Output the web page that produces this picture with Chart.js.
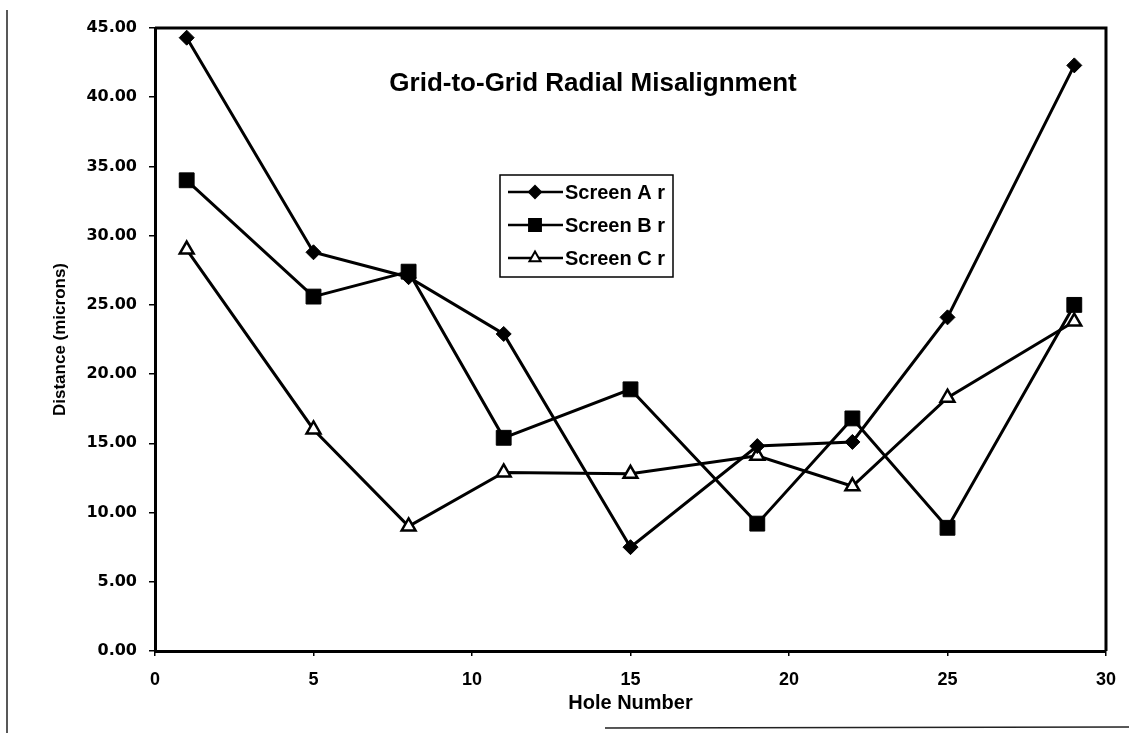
<!DOCTYPE html>
<html>
<head>
<meta charset="utf-8">
<script src="https://cdn.jsdelivr.net/npm/chart.js@4.4.0/dist/chart.umd.min.js"></script>
<style>
    html, body { margin: 0; padding: 0; background: #fff; }
    #wrap { width: 1129px; height: 733px; }
</style>
</head>
<body>
<div id="wrap"><canvas id="chart-misalign" width="1129" height="733"></canvas></div>
<script>
// data
const holes = [1, 5, 8, 11, 15, 19, 22, 25, 29];
const screenA = [44.3, 28.8, 27.0, 22.9, 7.5, 14.8, 15.1, 24.1, 42.3];
const screenB = [34.0, 25.6, 27.4, 15.4, 18.9, 9.2, 16.8, 8.9, 25.0];
const screenC = [29.0, 16.0, 9.0, 12.9, 12.8, 14.1, 11.9, 18.3, 23.8];
const seriesNames = ['Screen A r', 'Screen B r', 'Screen C r'];
const chartTitle = 'Grid-to-Grid Radial Misalignment';

function toPoints(values) {
    return holes.map((h, i) => ({ x: h, y: values[i] }));
}

// title + boxed legend inside the plot, plot frame, scan edge lines
const decorPlugin = {
    id: 'decor',
    afterDraw(chart) {
        const ctx = chart.ctx;
        const area = chart.chartArea;
        ctx.save();

        // frame top/right
        ctx.strokeStyle = '#000';
        ctx.lineWidth = 3;
        ctx.beginPath();
        ctx.moveTo(area.left, area.top);
        ctx.lineTo(area.right, area.top);
        ctx.lineTo(area.right, area.bottom);
        ctx.stroke();

        // scan edges
        ctx.lineWidth = 1.5;
        ctx.strokeStyle = '#222';
        ctx.beginPath();
        ctx.moveTo(7, 10);
        ctx.lineTo(7, 733);
        ctx.moveTo(605, 728);
        ctx.lineTo(1129, 727);
        ctx.stroke();

        // title
        ctx.fillStyle = '#000';
        ctx.font = 'bold 26px "Liberation Sans", Arial, sans-serif';
        ctx.textAlign = 'center';
        ctx.textBaseline = 'middle';
        ctx.fillText(chartTitle, 593, 84);

        // legend
        const box = { x: 500, y: 175, w: 173, h: 102 };
        ctx.fillStyle = '#fff';
        ctx.fillRect(box.x, box.y, box.w, box.h);
        ctx.strokeStyle = '#000';
        ctx.lineWidth = 1.5;
        ctx.strokeRect(box.x, box.y, box.w, box.h);
        ctx.font = 'bold 20px "Liberation Sans", Arial, sans-serif';
        ctx.textAlign = 'left';
        chart.data.datasets.forEach((ds, i) => {
            const y = box.y + 17 + i * 33;
            ctx.strokeStyle = '#000';
            ctx.lineWidth = 2.5;
            ctx.beginPath();
            ctx.moveTo(box.x + 8, y);
            ctx.lineTo(box.x + 63, y);
            ctx.stroke();
            ctx.fillStyle = ds.pointBackgroundColor;
            ctx.strokeStyle = '#000';
            ctx.lineWidth = 2;
            Chart.helpers.drawPoint(ctx, {
                pointStyle: ds.pointStyle,
                radius: ds.pointRadius * 0.8,
                borderWidth: 2,
                rotation: 0
            }, box.x + 35, y);
            ctx.fillStyle = '#000';
            ctx.fillText(ds.label, box.x + 65, y + 1);
        });
        ctx.restore();
    }
};

const element = document.getElementById('chart-misalign');
const chart = new Chart(element, {
    type: 'line',
    data: {
        datasets: [{
                label: seriesNames[0],
                data: toPoints(screenA),
                borderColor: '#000',
                borderWidth: 3,
                pointStyle: 'rectRot',
                pointRadius: 7.5,
                pointBackgroundColor: '#000',
                pointBorderColor: '#000',
                pointBorderWidth: 1
            },
            {
                label: seriesNames[1],
                data: toPoints(screenB),
                borderColor: '#000',
                borderWidth: 3,
                pointStyle: 'rect',
                pointRadius: 10.5,
                pointBackgroundColor: '#000',
                pointBorderColor: '#000',
                pointBorderWidth: 1
            },
            {
                label: seriesNames[2],
                data: toPoints(screenC),
                borderColor: '#000',
                borderWidth: 3,
                pointStyle: 'triangle',
                pointRadius: 8,
                pointBackgroundColor: '#fff',
                pointBorderColor: '#000',
                pointBorderWidth: 2.5
            }
        ]
    },
    options: {
        responsive: false,
        animation: false,
        layout: { padding: { left: 0, top: 28, right: 19, bottom: 0 } },
        plugins: {
            legend: { display: false },
            title: { display: false },
            tooltip: { enabled: false }
        },
        scales: {
            x: {
                type: 'linear',
                min: 0,
                max: 30,
                afterFit: (scale) => { scale.height = 82; },
                ticks: {
                    stepSize: 5,
                    color: '#000',
                    padding: 13,
                    maxRotation: 0,
                    font: { family: '"Liberation Sans", Arial, sans-serif', size: 18, weight: 'bold' }
                },
                grid: { display: true, drawOnChartArea: false, drawTicks: true, tickLength: 5, color: '#000', lineWidth: 1.5 },
                border: { display: true, color: '#000', width: 3 },
                title: {
                    display: true,
                    text: 'Hole Number',
                    color: '#000',
                    padding: { top: 0, bottom: 18 },
                    font: { family: '"Liberation Sans", Arial, sans-serif', size: 20, weight: 'bold' }
                }
            },
            y: {
                min: 0,
                max: 45,
                afterFit: (scale) => { scale.width = 155; },
                ticks: {
                    stepSize: 5,
                    color: '#000',
                    padding: 12,
                    callback: (v) => v.toFixed(2),
                    font: { family: '"DejaVu Sans", sans-serif', size: 16, weight: 'bold' }
                },
                grid: { display: true, drawOnChartArea: false, drawTicks: true, tickLength: 6, color: '#000', lineWidth: 1.5 },
                border: { display: true, color: '#000', width: 3 },
                title: {
                    display: true,
                    text: 'Distance (microns)',
                    color: '#000',
                    padding: { top: 50, bottom: 0 },
                    font: { family: '"Liberation Sans Narrow", "Liberation Sans", Arial, sans-serif', size: 17, weight: 'bold' }
                }
            }
        }
    },
    plugins: [decorPlugin]
});
</script>
</body>
</html>
